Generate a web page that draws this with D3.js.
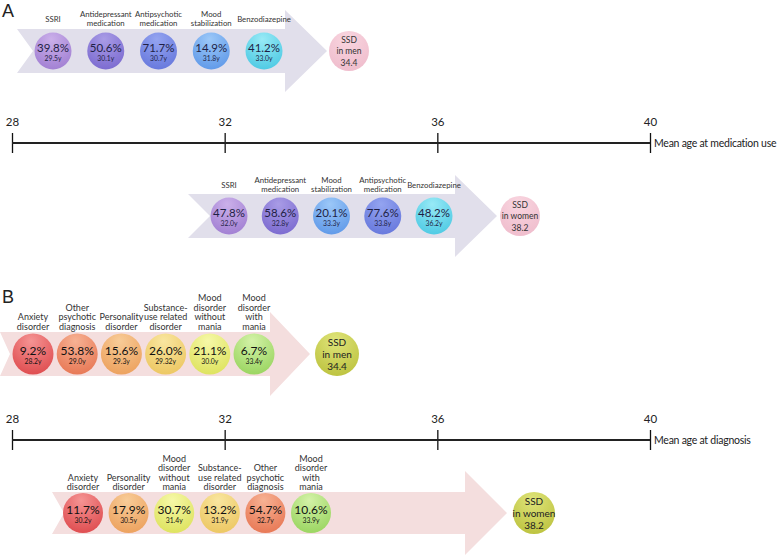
<!DOCTYPE html>
<html><head><meta charset="utf-8">
<script src="https://cdn.jsdelivr.net/npm/d3@7"></script>
<style>body{margin:0;background:#fff}svg{display:block}</style>
</head><body><svg id="c" width="778" height="558"></svg>
<script>
// ---------- DATA ----------
const axisTicks = [28, 32, 36, 40];
const axisLabelA = "Mean age at medication use";
const axisLabelB = "Mean age at diagnosis";

const medMenCats = ["SSRI", "Antidepressant|medication", "Antipsychotic|medication", "Mood|stabilization", "Benzodiazepine"];
const medMenPct = [39.8, 50.6, 71.7, 14.9, 41.2];
const medMenAge = ["29.5y", "30.1y", "30.7y", "31.8y", "33.0y"];

const medWomenCats = ["SSRI", "Antidepressant|medication", "Mood|stabilization", "Antipsychotic|medication", "Benzodiazepine"];
const medWomenPct = [47.8, 58.6, 20.1, 77.6, 48.2];
const medWomenAge = ["32.0y", "32.8y", "33.3y", "33.8y", "36.2y"];

const dxMenCats = ["Anxiety|disorder", "Other|psychotic|diagnosis", "Personality|disorder", "Substance-|use related|disorder", "Mood|disorder|without|mania", "Mood|disorder|with|mania"];
const dxMenPct = [9.2, 53.8, 15.6, 26.0, 21.1, 6.7];
const dxMenAge = ["28.2y", "29.0y", "29.3y", "29.32y", "30.0y", "33.4y"];

const dxWomenCats = ["Anxiety|disorder", "Personality|disorder", "Mood|disorder|without|mania", "Substance-|use related|disorder", "Other|psychotic|diagnosis", "Mood|disorder|with|mania"];
const dxWomenPct = [11.7, 17.9, 30.7, 13.2, 54.7, 10.6];
const dxWomenAge = ["30.2y", "30.5y", "31.4y", "31.9y", "32.7y", "33.9y"];

const ssdMen = 34.4;
const ssdWomen = 38.2;

// ---------- STYLE ----------
const medColors = {
  "SSRI": ["#cbb0ea", "#a07ed2"],
  "Antidepressant|medication": ["#a99ce6", "#7a69cf"],
  "Antipsychotic|medication": ["#94a4f0", "#6677dc"],
  "Mood|stabilization": ["#9cc8f8", "#5e98e8"],
  "Benzodiazepine": ["#98eaf6", "#4cc9e3"]
};
const dxColors = {
  "Anxiety|disorder": ["#f59494", "#de4a4d"],
  "Other|psychotic|diagnosis": ["#f7b294", "#e77653"],
  "Personality|disorder": ["#f8cc98", "#eca05c"],
  "Substance-|use related|disorder": ["#f9e6a0", "#ecc660"],
  "Mood|disorder|without|mania": ["#f6f8a8", "#dde25c"],
  "Mood|disorder|with|mania": ["#d4f2a8", "#98d45e"]
};
const FONT = "Lato,'Open Sans',sans-serif";

const svg = d3.select("#c");
const defs = svg.append("defs");
let gid = 0;
function grad(c) {
  const id = "g" + (gid++);
  const g = defs.append("radialGradient").attr("id", id)
    .attr("cx", "50%").attr("cy", "25%").attr("r", "80%").attr("fx", "45%").attr("fy", "18%");
  g.append("stop").attr("offset", "0%").attr("stop-color", c[0]);
  g.append("stop").attr("offset", "100%").attr("stop-color", c[1]);
  return "url(#" + id + ")";
}

// ---------- AXES ----------
const x = d3.scaleLinear().domain([28, 40]).range([12, 650]);
function drawAxis(y, label) {
  const g = svg.append("g").attr("transform", `translate(0,${y})`);
  g.call(d3.axisTop(x).tickValues(axisTicks).tickSize(10).tickPadding(7).tickFormat(d3.format("d")));
  g.select(".domain").remove();
  g.selectAll(".tick line").attr("y1", 10).attr("stroke", "#111").attr("stroke-width", 1.3);
  g.selectAll(".tick text").attr("font-family", FONT).attr("font-size", 11.5).attr("fill", "#222");
  g.append("line").attr("x1", x(28)).attr("x2", x(40)).attr("stroke", "#222").attr("stroke-width", 2);
  g.append("text").attr("x", x(40) + 4).attr("y", 3.5).attr("text-anchor", "start")
    .attr("font-family", FONT).attr("font-size", 10.5).attr("letter-spacing", -0.25)
    .attr("fill", "#222").text(label);
}
drawAxis(143, axisLabelA);
drawAxis(440, axisLabelB);

// ---------- PANELS ----------
function arrowPath(a, cy) {
  const p = d3.path();
  p.moveTo(a.x0, cy - a.bh); p.lineTo(a.base, cy - a.bh); p.lineTo(a.base, cy - a.hh);
  p.lineTo(a.tip, cy); p.lineTo(a.base, cy + a.hh); p.lineTo(a.base, cy + a.bh);
  p.lineTo(a.x0, cy + a.bh); p.lineTo(a.notch, cy); p.closePath();
  return p.toString();
}

function panel(cfg) {
  const g = svg.append("g");
  g.append("path").attr("d", arrowPath(cfg.arrow, cfg.cy)).attr("fill", cfg.arrowFill);
  const px = d3.scalePoint().domain(cfg.cats).range(cfg.range);
  const data = cfg.cats.map((c, i) => ({ c, pct: cfg.pct[i], age: cfg.age[i] }));
  const node = g.selectAll(".n").data(data).join("g").attr("transform", d => `translate(${px(d.c)},${cfg.cy})`);
  node.append("circle").attr("r", cfg.r).attr("fill", d => grad(cfg.colors[d.c]));
  node.append("text").attr("text-anchor", "middle").attr("y", cfg.pctY).attr("font-family", FONT)
    .attr("font-size", cfg.pctSize).attr("fill", cfg.textFill).text(d => d3.format(".1f")(d.pct) + "%");
  node.append("text").attr("text-anchor", "middle").attr("y", cfg.ageY).attr("font-family", FONT)
    .attr("font-size", cfg.ageSize).attr("fill", cfg.textFill).text(d => d.age);
  // category labels
  data.forEach(d => {
    const lines = d.c.split("|");
    const n = lines.length;
    const t = g.append("text").attr("text-anchor", "middle").attr("font-family", FONT)
      .attr("font-size", cfg.labSize).attr("fill", "#333");
    lines.forEach((ln, i) => {
      let yy;
      if (cfg.labMode === "bottom") yy = cfg.labY - (n - 1 - i) * cfg.labLH;
      else yy = cfg.labY - (n - 1) * cfg.labLH / 2 + i * cfg.labLH + cfg.labSize * 0.35;
      t.append("tspan").attr("x", px(d.c)).attr("y", yy).text(ln);
    });
  });
  // SSD circle
  const s = g.append("g").attr("transform", `translate(${cfg.ssd.x},${cfg.cy})`);
  s.append("circle").attr("r", cfg.ssd.r).attr("fill", grad(cfg.ssd.color));
  const lines = ["SSD", cfg.ssd.who, d3.format(".1f")(cfg.ssd.val)];
  lines.forEach((ln, i) => {
    s.append("text").attr("text-anchor", "middle").attr("font-family", FONT)
      .attr("font-size", cfg.ssd.size).attr("fill", cfg.ssd.fill)
      .attr("y", (i - 1) * cfg.ssd.lh + cfg.ssd.size * 0.36 + cfg.ssd.dy).text(ln);
  });
}

// Panel A – men
panel({
  cats: medMenCats, pct: medMenPct, age: medMenAge, colors: medColors,
  cy: 51, range: [53, 264], r: 18.5,
  arrow: { x0: 17, notch: 33, base: 285, tip: 327, bh: 22, hh: 41 }, arrowFill: "#e1dfeb",
  pctY: 0.8, pctSize: 11.5, ageY: 9.8, ageSize: 6.8, textFill: "#1f1f45",
  labSize: 7.8, labLH: 8.5, labY: 19, labMode: "center",
  ssd: { x: 349, r: 20, who: "in men", val: ssdMen, color: ["#f9d6e0", "#efbccc"], size: 8.5, lh: 11.5, dy: 0, fill: "#333" }
});
// Panel A – women
panel({
  cats: medWomenCats, pct: medWomenPct, age: medWomenAge, colors: medColors,
  cy: 216, range: [229, 434], r: 18.5,
  arrow: { x0: 188, notch: 210, base: 455, tip: 497, bh: 22, hh: 41 }, arrowFill: "#e1dfeb",
  pctY: 0.8, pctSize: 11.5, ageY: 9.8, ageSize: 6.8, textFill: "#1f1f45",
  labSize: 7.8, labLH: 8.5, labY: 185, labMode: "center",
  ssd: { x: 520, r: 20, who: "in women", val: ssdWomen, color: ["#f9d6e0", "#efbccc"], size: 8.5, lh: 11.5, dy: 0, fill: "#333" }
});
// Panel B – men
panel({
  cats: dxMenCats, pct: dxMenPct, age: dxMenAge, colors: dxColors,
  cy: 354, range: [33, 254], r: 20.5,
  arrow: { x0: 0, notch: 10, base: 270, tip: 310, bh: 22, hh: 42 }, arrowFill: "#f4dede",
  pctY: 0.5, pctSize: 12, ageY: 9.8, ageSize: 6.8, textFill: "#111",
  labSize: 9, labLH: 9.5, labY: 329.5, labMode: "bottom",
  ssd: { x: 337, r: 22, who: "in men", val: ssdMen, color: ["#dfe47a", "#bcc23e"], size: 10, lh: 12, dy: 0.5, fill: "#222" }
});
// Panel B – women
panel({
  cats: dxWomenCats, pct: dxWomenPct, age: dxWomenAge, colors: dxColors,
  cy: 513, range: [83, 311], r: 20,
  arrow: { x0: 52, notch: 64, base: 465, tip: 507, bh: 21, hh: 42 }, arrowFill: "#f4dede",
  pctY: 0.5, pctSize: 12, ageY: 9.8, ageSize: 6.8, textFill: "#111",
  labSize: 9, labLH: 9.5, labY: 490, labMode: "bottom",
  ssd: { x: 534, r: 21, who: "in women", val: ssdWomen, color: ["#dfe47a", "#bcc23e"], size: 10, lh: 12, dy: 0.5, fill: "#222" }
});

// Panel letters
svg.append("text").attr("x", 2).attr("y", 17).attr("font-family", "'Liberation Sans','Open Sans',sans-serif").attr("font-size", 18).attr("fill", "#222").text("A");
svg.append("text").attr("x", 2).attr("y", 303).attr("font-family", "'Liberation Sans','Open Sans',sans-serif").attr("font-size", 18).attr("fill", "#222").text("B");
</script></body></html>
